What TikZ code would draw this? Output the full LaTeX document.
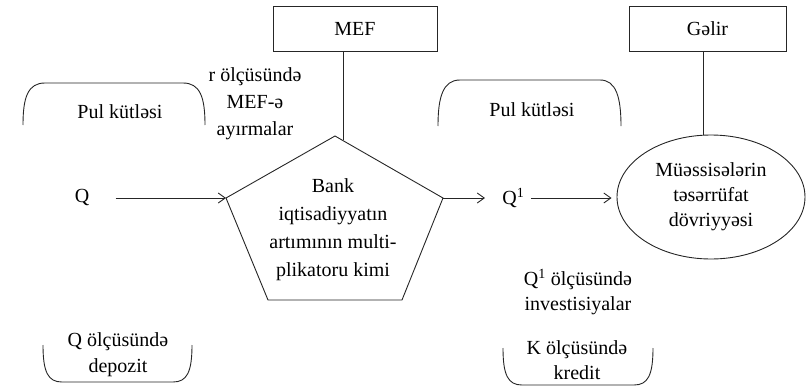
\documentclass[tikz,border=0pt]{standalone}
\usepackage{fontspec}
\setmainfont{Liberation Serif}
\usetikzlibrary{arrows.meta,shapes.geometric}
\begin{document}
\begin{tikzpicture}[x=1pt,y=-1pt,line width=0.9pt,draw=black!85,
  lbl/.style={align=center,inner sep=0pt,font=\fontsize{20}{26}\selectfont},
  boxnode/.style={draw,rectangle,minimum height=45pt,inner sep=0pt,font=\fontsize{20}{26}\selectfont},
  arr/.style={-{Straight Barb[length=7pt,width=10pt]}}]
\useasboundingbox (0,0) rectangle (807,386);

% boxes
\node[boxnode,minimum width=164pt] (mef) at (355,28.5) {MEF};
\node[boxnode,minimum width=157pt] (gelir) at (707.5,28.5) {Gəlir};

% pentagon
\coordinate (pt) at (335,136);
\coordinate (pl) at (226,198);
\coordinate (pr) at (443,198);
\coordinate (pbr) at (402,300);
\coordinate (pbl) at (268,300);
\draw (pt) -- (pr) -- (pbr) -- (pbl) -- (pl) -- cycle;
\node[lbl,font=\fontsize{20}{28}\selectfont] (bank) at (333,230) {Bank\\iqtisadiyyatın\\artımının multi-\\plikatoru kimi};

% ellipse
\node[ellipse,draw,minimum width=188pt,minimum height=124pt,inner sep=0pt,align=center,font=\fontsize{20}{25}\selectfont] (el) at (711,197) {Müəssisələrin\\təsərrüfat\\dövriyyəsi};

% connectors to boxes
\coordinate (mefj) at (343,140);
\draw (mef.south -| mefj) -- (mefj);
\coordinate (gelj) at (703,135.3);
\draw (gelir.south -| gelj) -- (gelj);

% Q and Q1
\node[lbl] (q) at (82,197) {Q};
\node[lbl,anchor=west] (q1) at (502,198) {Q\textsuperscript{1}};
\draw[arr,shorten <=26pt] (q.east |- pl) -- (pl);
\draw[arr,shorten >=17pt] (pr) -- (q1.west |- pr);
\draw[arr,shorten <=6pt,shorten >=5pt] (q1.east |- pr) -- (el.west |- pr);

% labels
\node[lbl] (pk1) at (120,112) {Pul kütləsi};
\node[lbl] (pk2) at (532,110) {Pul kütləsi};
\node[lbl,font=\fontsize{20}{27}\selectfont] (mefa) at (255,104) {r ölçüsündə\\MEF-ə\\ayırmalar};
\node[lbl] (dep) at (118,355) {Q ölçüsündə\\depozit};
\node[lbl,font=\fontsize{20}{25}\selectfont] (inv) at (578,292) {Q\textsuperscript{1} ölçüsündə\\investisiyalar};
\node[lbl,font=\fontsize{20}{25}\selectfont] (kre) at (577,360) {K ölçüsündə\\kredit};

% brackets
\draw (23,125) .. controls (23,97) and (28,83) .. (45,83) -- (183,83) .. controls (200,83) and (205,97) .. (205,125);
\draw (438,126) .. controls (438,97) and (443,80) .. (460,80) -- (600,80) .. controls (616,80) and (621,97) .. (621,126);
\draw (43,345) .. controls (43,372) and (48,382) .. (62,382) -- (173,382) .. controls (187,382) and (192,372) .. (192,345);
\draw (503,348) .. controls (503,375) and (508,385) .. (522,385) -- (634,385) .. controls (648,385) and (653,375) .. (653,348);
\end{tikzpicture}
\end{document}
